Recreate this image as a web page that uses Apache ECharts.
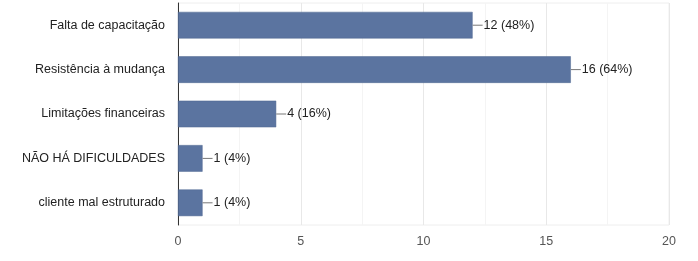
<!DOCTYPE html>
<html><head><meta charset="utf-8">
<script src="https://cdn.jsdelivr.net/npm/echarts@6/dist/echarts.min.js"></script>
<style>html,body{margin:0;padding:0;background:#fff}#c{width:698px;height:261px}</style>
</head><body><div id="c"></div>
<script>
const categories = ["Falta de capacitação","Resistência à mudança","Limitações financeiras","NÃO HÁ DIFICULDADES","cliente mal estruturado"];
const counts = [12,16,4,1,1];
const percents = [48,64,16,4,4];
const xTicks = [0,5,10,15,20];

const chart = echarts.init(document.getElementById('c'), null, {renderer:'canvas'});
const FF = 'Liberation Sans, Arial';
chart.setOption({
  animation:false,
  grid:{left:178,right:29,top:3,bottom:36,show:true,borderColor:'#eeeeee',borderWidth:1},
  xAxis:{type:'value',min:xTicks[0],max:xTicks[xTicks.length-1],interval:5,
    axisLine:{show:false},axisTick:{show:false},
    axisLabel:{color:'#555',fontSize:12.5,fontFamily:FF,margin:10},
    splitLine:{show:true,lineStyle:{color:'#e8e8e8'}},
    minorSplitLine:{show:true,lineStyle:{color:'#f4f4f4'}},minorTick:{show:false,splitNumber:2}},
  yAxis:{type:'category',data:categories,inverse:true,
    axisLine:{show:true,lineStyle:{color:'#333',width:1}},axisTick:{show:false},
    axisLabel:{color:'#222',fontSize:12.5,fontFamily:FF,margin:13}},
  series:[{type:'bar',data:counts,barWidth:'60%',
    itemStyle:{color:'#5b74a0',borderColor:'#4e6690',borderWidth:0.5},
    label:{show:true,position:'right',distance:0,
      formatter:p=>'{l|}{t|'+p.value+' ('+percents[p.dataIndex]+'%)}',
      rich:{l:{width:10,height:1,backgroundColor:'#777'},
            t:{color:'#222',fontSize:12.5,fontFamily:FF,padding:[0,0,0,1]}}}}]
});
</script></body></html>
